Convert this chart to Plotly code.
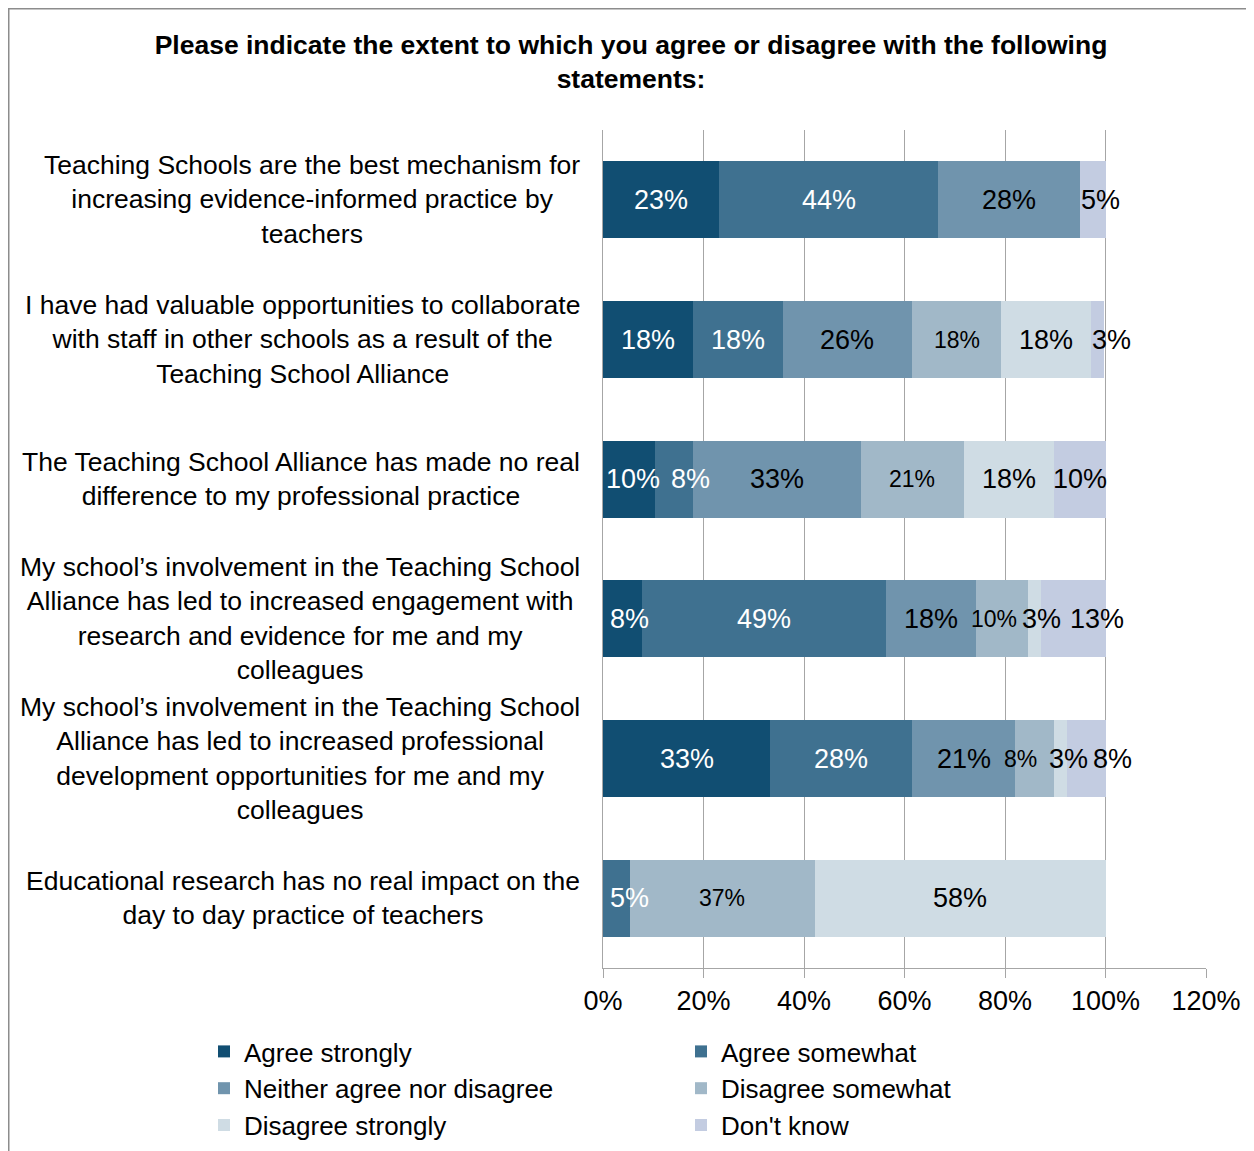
import plotly.graph_objects as go

categories = [
    "Teaching Schools are the best mechanism for<br>increasing evidence-informed practice by<br>teachers",
    "I have had valuable opportunities to collaborate<br>with staff in other schools as a result of the<br>Teaching School Alliance",
    "The Teaching School Alliance has made no real<br>difference to my professional practice",
    "My school’s involvement in the Teaching School<br>Alliance has led to increased engagement with<br>research and evidence for me and my<br>colleagues",
    "My school’s involvement in the Teaching School<br>Alliance has led to increased professional<br>development opportunities for me and my<br>colleagues",
    "Educational research has no real impact on the<br>day to day practice of teachers",
]
series_names = ["Agree strongly", "Agree somewhat", "Neither agree nor disagree",
                "Disagree somewhat", "Disagree strongly", "Don't know"]
agree_strongly = [23.1, 17.9, 10.3, 7.7, 33.3, 0]
agree_somewhat = [43.6, 17.9, 7.7, 48.7, 28.2, 5.3]
neither = [28.2, 25.6, 33.3, 17.9, 20.5, 0]
disagree_somewhat = [0, 17.9, 20.5, 10.3, 7.7, 36.8]
disagree_strongly = [0, 17.9, 17.9, 2.6, 2.6, 57.9]
dont_know = [5.1, 2.6, 10.3, 12.8, 7.7, 0]
tick_values = [0, 20, 40, 60, 80, 100, 120]
tick_labels = ["0%", "20%", "40%", "60%", "80%", "100%", "120%"]

series_values = [agree_strongly, agree_somewhat, neither,
                 disagree_somewhat, disagree_strongly, dont_know]

# styling
colors = ["#114e72", "#3f7190", "#7094ad", "#a1b8c8", "#cfdce4", "#c3cce1"]
text_colors = ["white", "white", "black", "black", "black", "black"]
text_sizes = [27, 27, 27, 23, 27, 27]
# small horizontal nudges (px) of data labels to avoid overlaps, as in the original
label_nudge_px = [
    [0, 0, 4, 7, 0, 0],
    [0, 0, 16, 0, 0, 13],
    [0, 0, 0, 0, 0, 0],
    [0, 0, 0, -8, -14, 0],
    [0, 0, 0, 7, 8, 0],
    [8, 14, 0, 24, 26, 0],
]

FONT = "Liberation Sans, Arial, sans-serif"

# figure geometry (page has an 8px body margin)
W, H = 1246, 1143
ML, MR, MT, MB = 595, 48, 122, 183
PW, PH = W - ML - MR, H - MT - MB

fig = go.Figure()
for name, vals, col in zip(series_names, series_values, colors):
    fig.add_trace(go.Bar(
        name=name, y=categories, x=vals, orientation="h",
        marker=dict(color=col, line=dict(width=0)),
    ))

# data labels at the middle of each segment
cum = [0.0] * len(categories)
for i, vals in enumerate(series_values):
    for j, v in enumerate(vals):
        if v > 0:
            fig.add_annotation(
                x=cum[j] + v / 2, y=categories[j], xref="x", yref="y",
                text=f"{int(v + 0.5)}%", showarrow=False,
                xanchor="center", yanchor="middle",
                xshift=label_nudge_px[i][j],
                font=dict(size=text_sizes[i], color=text_colors[i], family=FONT),
            )
        cum[j] += v

# category labels (centred lines, right-aligned block)
for c in categories:
    fig.add_annotation(
        text=c, xref="paper", yref="y", x=(574 - ML) / PW, y=c,
        xanchor="right", yanchor="middle", align="center", showarrow=False,
        font=dict(size=26.5, family=FONT, color="black"),
    )

# outer frame (top and left edges)
fig.add_shape(type="line", xref="paper", yref="paper",
              x0=(0 - ML) / PW, x1=(W - ML) / PW,
              y0=(H - MB - 0) / PH, y1=(H - MB - 0) / PH,
              line=dict(color="#8c8c8c", width=3))
fig.add_shape(type="line", xref="paper", yref="paper",
              x0=(0 - ML) / PW, x1=(0 - ML) / PW,
              y0=(H - MB - 0) / PH, y1=(H - MB - H) / PH,
              line=dict(color="#8c8c8c", width=3))

fig.update_layout(
    width=W, height=H,
    margin=dict(l=ML, r=MR, t=MT, b=MB, autoexpand=False),
    paper_bgcolor="white", plot_bgcolor="white",
    barmode="stack", bargap=0.45,
    font=dict(family=FONT, size=26, color="black"),
    title=dict(
        text="<b>Please indicate the extent to which you agree or disagree with the following<br>statements:</b>",
        x=623 / W, xanchor="center", xref="container",
        y=1 - 46 / H, yanchor="top", yref="container",
        font=dict(size=26.5, family=FONT, color="black"),
    ),
    xaxis=dict(
        range=[0, 120], tickvals=tick_values, ticktext=tick_labels,
        showgrid=True, gridcolor="#a6a6a6", gridwidth=1,
        showline=True, linecolor="#a6a6a6", linewidth=1,
        ticks="outside", ticklen=9, tickcolor="#a6a6a6",
        tickfont=dict(size=27, family=FONT), zeroline=False,
    ),
    yaxis=dict(
        autorange="reversed", showticklabels=False,
        showline=True, linecolor="#a6a6a6", linewidth=1, ticks="",
    ),
    legend=dict(
        orientation="h", x=(196 - ML) / PW, xanchor="left",
        y=-60 / PH, yanchor="top",
        entrywidth=432, entrywidthmode="pixels",
        font=dict(size=26, family=FONT), traceorder="normal",
    ),
    showlegend=True,
)

fig.write_html("out.html")
